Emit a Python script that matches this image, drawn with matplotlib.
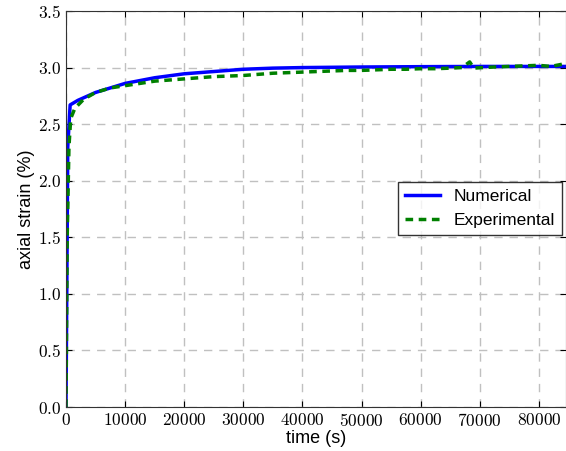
import numpy as np
import matplotlib
matplotlib.use("Agg")
import matplotlib.pyplot as plt
from matplotlib.ticker import FuncFormatter

plt.rcParams['mathtext.fontset'] = 'cm'
plt.rcParams['font.family'] = ['Liberation Sans', 'DejaVu Sans']

# numerical model
t_num = [0, 300, 700, 2000, 5000, 10000, 15000, 20000, 25000, 30000, 35000,
         40000, 50000, 60000, 70000, 85000]
e_num = [0.0, 2.3, 2.67, 2.71, 2.78, 2.86, 2.91, 2.945, 2.965, 2.985, 2.995,
         3.0, 3.005, 3.008, 3.01, 3.01]

# experimental measurements
t_exp = [0, 200, 500, 800, 1500, 3000, 5000, 7500, 10000, 12500, 15000, 17500,
         20000, 22500, 25000, 27500, 30000, 32500, 35000, 37500, 40000, 42500,
         45000, 47500, 50000, 52500, 55000, 57500, 60000, 62500, 65000, 67000,
         68300, 69000, 70500, 72500, 75000, 77500, 80000, 82000, 84000, 85000]
e_exp = [0.0, 1.5, 2.3, 2.55, 2.64, 2.72, 2.78, 2.82, 2.84, 2.86, 2.88, 2.89,
         2.9, 2.91, 2.92, 2.925, 2.93, 2.94, 2.95, 2.955, 2.96, 2.965,
         2.97, 2.975, 2.975, 2.98, 2.985, 2.985, 2.99, 2.99, 2.995, 3.0,
         3.05, 2.995, 3.0, 3.005, 3.01, 3.015, 3.02, 3.01, 3.03, 3.015]

fig = plt.figure(figsize=(5.66, 4.51), dpi=100)
ax = fig.add_axes([66/566, 44/451, 500/566, 396/451])

ax.plot(t_num, e_num, color='blue', lw=2.5, label='Numerical')
ax.plot(t_exp, e_exp, color='green', lw=2.5, ls=(0, (2.2, 1.6)), label='Experimental')

ax.set_xlim(0, 84600)
ax.set_ylim(0, 3.5)
ax.set_xticks(np.arange(0, 80001, 10000))
ax.set_yticks(np.arange(0, 3.51, 0.5))
ax.xaxis.set_major_formatter(FuncFormatter(lambda v, p: r'$%d$' % v))
ax.yaxis.set_major_formatter(FuncFormatter(lambda v, p: r'$%.1f$' % v))
ax.tick_params(labelsize=12.5, direction='in', length=4)
ax.tick_params(top=True, right=True)
ax.grid(True, color='#c0c0c0', ls=(0, (6, 5)), lw=1)
for s in ax.spines.values():
    s.set_color('#333333')

ax.set_xlabel('time (s)', fontsize=13, labelpad=1)
ax.set_ylabel('axial strain (%)', fontsize=13, labelpad=2)

leg = ax.legend(loc='center right', fontsize=12.5, fancybox=False,
                bbox_to_anchor=(0.992, 0.501), borderaxespad=0.0)
leg.get_frame().set_edgecolor('black')
leg.get_frame().set_linewidth(1)

fig.savefig('out.png', dpi=100)
